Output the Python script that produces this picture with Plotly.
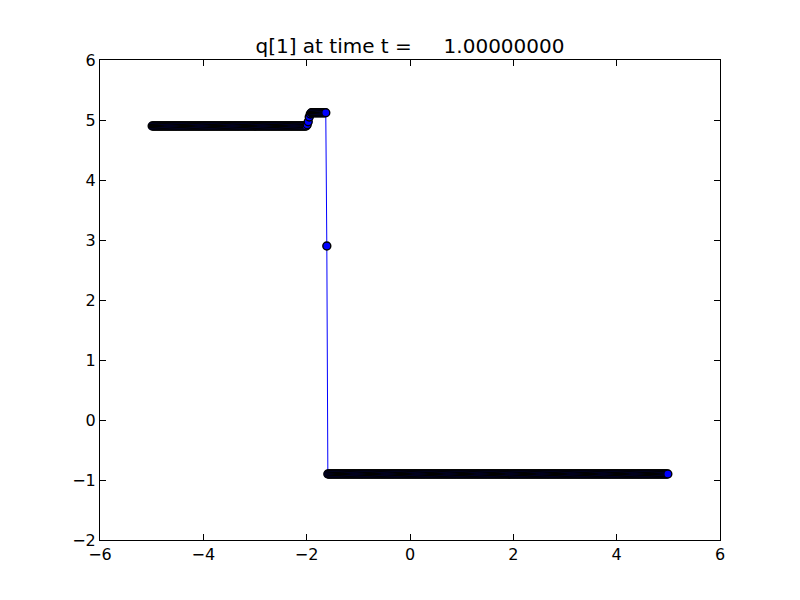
import numpy as np
import plotly.graph_objects as go

# Cell-centre grid: 500 cells on [-5, 5]
n_cells = 500
x_lo, x_hi = -5.0, 5.0
x = np.linspace(x_lo + 0.01, x_hi - 0.01, n_cells)

# q[1] values, segment by segment
left_state = [4.90] * 149
left_transition = [4.90, 4.92, 4.97, 5.05, 5.10]
middle_state = [5.12] * 15
shock_point = [2.90]
right_state = [-0.90] * 330

q1 = left_state + left_transition + middle_state + shock_point + right_state

title_text = "q[1] at time t =     1.00000000"
x_ticks = [-6, -4, -2, 0, 2, 4, 6]
y_ticks = [-2, -1, 0, 1, 2, 3, 4, 5, 6]

fig = go.Figure()
fig.add_trace(go.Scatter(
    x=x, y=q1, mode="lines+markers",
    line=dict(color="#0000ff", width=1),
    marker=dict(color="#0000ff", size=8, line=dict(color="black", width=1.4)),
    showlegend=False,
))

axis_common = dict(
    showgrid=False, zeroline=False, showline=True, linecolor="black", linewidth=1,
    mirror="ticks", ticks="inside", ticklen=6, tickwidth=1, tickcolor="black",
    tickfont=dict(family="DejaVu Sans", size=16, color="black"),
)

# page body has an 8px margin, so the figure is drawn 8px in from the corner
W, H = 792, 592
fig.update_layout(
    width=W, height=H,
    margin=dict(l=92, r=80, t=52, b=60),
    paper_bgcolor="white", plot_bgcolor="white",
    title=dict(text=title_text, x=0.5, xanchor="center", xref="paper",
               y=1 - 38 / H, yref="container", yanchor="middle",
               font=dict(family="DejaVu Sans", size=20, color="black")),
    xaxis=dict(range=[-6, 6], tickvals=x_ticks, **axis_common),
    yaxis=dict(range=[-2, 6], tickvals=y_ticks, **axis_common),
)

fig.write_html("out.html")
